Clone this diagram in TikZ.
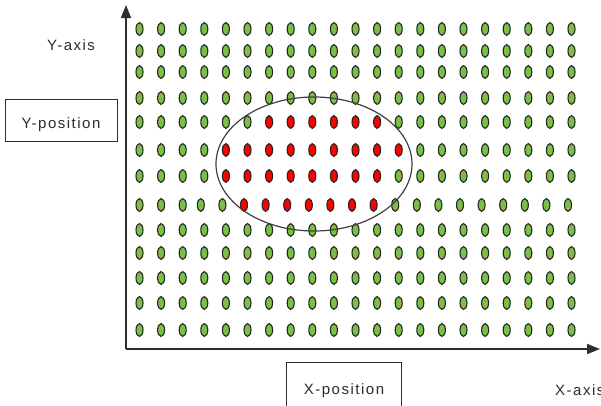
\documentclass[tikz,border=0pt]{standalone}
\usepackage{fontspec}
\setmainfont[LetterSpace=10]{Liberation Sans}
\usetikzlibrary{arrows.meta}
\definecolor{dotgreen}{RGB}{122,192,66}
\definecolor{dotred}{RGB}{255,0,0}
\definecolor{ink}{RGB}{45,45,45}
\begin{document}
\begin{tikzpicture}[x=1pt,y=-1pt,
  every node/.style={font=\fontsize{15pt}{18pt}\selectfont, text=ink},
  dotg/.style={draw=black!85, line width=1.1pt, fill=dotgreen},
  dotr/.style={draw=black!85, line width=1.1pt, fill=dotred},
  axis/.style={draw=ink, line width=1.6pt, -{Triangle[length=13pt,width=10pt]}},
  ring/.style={draw=black!75, line width=1.2pt},
  labelbox/.style={draw=ink, line width=1pt, minimum width=112pt, minimum height=42pt,
    inner sep=0pt, text height=16pt, text depth=0pt}]
\useasboundingbox (0,0) rectangle (601,405);
\fill[white] (0,0) rectangle (601,405);

% grid of sample points: row / y / first red column / last red column / shift
\foreach \r/\yy/\ra/\rb/\sh in {0/29/99/-1/0, 1/51/99/-1/0, 2/72/99/-1/0, 3/98/99/-1/0,
    4/122/6/11/0, 5/150/4/12/0, 6/176/4/11/0, 7/205/5/11/-3.5,
    8/230/99/-1/0, 9/253/99/-1/0, 10/278/99/-1/0, 11/303/99/-1/0, 12/330/99/-1/0}{
  \foreach \c in {0,...,20}{
    \pgfmathsetmacro{\xx}{139.5+21.6*\c+(\c>2)*\sh}
    \pgfmathtruncatemacro{\isred}{(\c>=\ra)&&(\c<=\rb)}
    \ifnum\isred=1
      \draw[dotr] (\xx,\yy) ellipse [x radius=3.5pt, y radius=6.4pt];
    \else
      \draw[dotg] (\xx,\yy) ellipse [x radius=3.5pt, y radius=6.4pt];
    \fi
  }
}

% selected region
\draw[ring] (314,164) ellipse [x radius=98pt, y radius=67pt];

% axes
\coordinate (origin) at (126,349);
\coordinate (ytip) at (126,5);
\coordinate (xtip) at (600,349);
\draw[axis] (origin) -- (ytip);
\draw[axis] (origin) -- (xtip);

% labels
\node[anchor=base west, inner sep=0pt] (yaxis) at (47,50) {Y-axis};
\node[anchor=base west, inner sep=0pt] (xaxis) at (555,395) {X-axis};
\node[labelbox] (ypos) at (61,120) {Y-position};
\node[labelbox, minimum width=115pt, minimum height=48pt, anchor=north west] (xpos) at (286,362) {X-position};
\end{tikzpicture}
\end{document}
